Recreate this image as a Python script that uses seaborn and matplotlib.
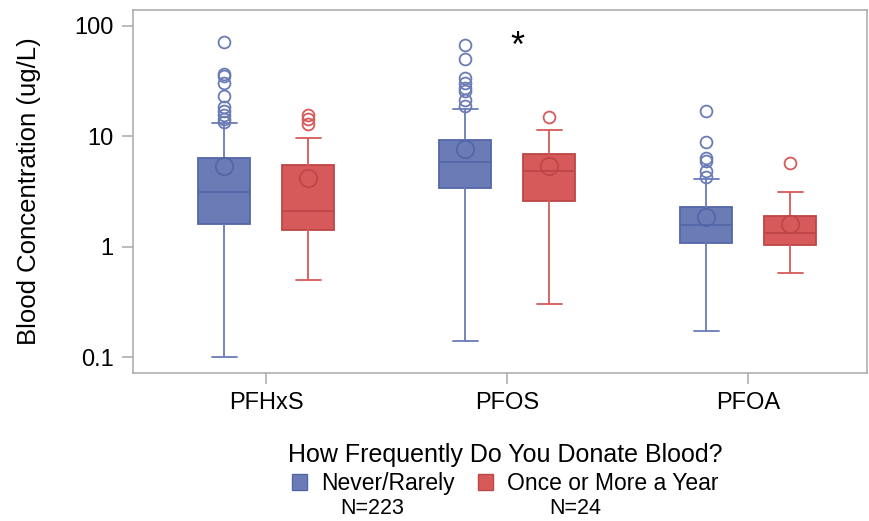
import numpy as np
import seaborn as sns
import matplotlib.pyplot as plt
from matplotlib.patches import Patch

sns.set_theme(style="white")
plt.rcParams['font.family'] = ['Liberation Sans', 'DejaVu Sans']
plt.rcParams['text.color'] = 'black'
plt.rcParams['axes.labelcolor'] = 'black'
plt.rcParams['xtick.labelcolor'] = 'black'
plt.rcParams['ytick.labelcolor'] = 'black'

# valores (ug/L)
compostos = ["PFHxS", "PFOS", "PFOA"]
grupos = ["Never/Rarely", "Once or More a Year"]
n_grupos = ["N=223", "N=24"]

nunca_min = [0.10, 0.141, 0.172]
nunca_q1 = [1.61, 3.41, 1.07]
nunca_mediana = [3.13, 5.81, 1.58]
nunca_q3 = [6.37, 9.33, 2.29]
nunca_max = [13.3, 17.7, 4.11]
nunca_media = [5.35, 7.69, 1.84]
nunca_outliers = [
    [71.7, 36.8, 35.0, 30.5, 23.0, 18.5, 16.9, 15.7, 14.2, 13.6],
    [66.8, 50.6, 33.8, 30.5, 27.5, 25.6, 21.5, 19.0],
    [17.1, 8.9, 6.37, 5.93, 4.82, 4.28],
]

anual_min = [0.50, 0.30, 0.578]
anual_q1 = [1.41, 2.61, 1.03]
anual_mediana = [2.11, 4.82, 1.33]
anual_q3 = [5.46, 6.97, 1.88]
anual_max = [9.73, 11.3, 3.11]
anual_media = [4.20, 5.35, 1.62]
anual_outliers = [[15.7, 14.3, 13.0], [15.1], [5.74]]

cor_azul = "#6A7BB6"
borda_azul = "#5366A8"
cor_verm = "#D65A5A"
borda_verm = "#BE4646"
cinza = "#A8A8A8"


def estatisticas(mins, q1s, meds, q3s, maxs, medias, outs):
    return [dict(whislo=a, q1=b, med=c, q3=d, whishi=e, mean=f, fliers=g)
            for a, b, c, d, e, f, g in zip(mins, q1s, meds, q3s, maxs, medias, outs)]


fig = plt.figure(figsize=(8.7, 5.21), dpi=100)
ax = fig.add_axes([0.153, 0.284, 0.843, 0.697])

x = np.arange(len(compostos))
desloc = 0.174
largura = 0.216

for stats, pos, cor, borda in [
    (estatisticas(nunca_min, nunca_q1, nunca_mediana, nunca_q3, nunca_max, nunca_media, nunca_outliers),
     x - desloc, cor_azul, borda_azul),
    (estatisticas(anual_min, anual_q1, anual_mediana, anual_q3, anual_max, anual_media, anual_outliers),
     x + desloc, cor_verm, borda_verm),
]:
    ax.bxp(stats, positions=pos, widths=largura, patch_artist=True, showmeans=True,
           boxprops=dict(facecolor=cor, edgecolor=borda, linewidth=1.3),
           medianprops=dict(color=borda, linewidth=1.3),
           whiskerprops=dict(color=cor, linewidth=1.3),
           capprops=dict(color=cor, linewidth=1.3),
           capwidths=0.104,
           meanprops=dict(marker="o", markerfacecolor="none", markeredgecolor=borda,
                          markersize=12.5, markeredgewidth=1.3),
           flierprops=dict(marker="o", markerfacecolor="none", markeredgecolor=cor,
                           markersize=8.5, markeredgewidth=1.3))

ax.text(1.04, 64, "*", ha="center", va="center", fontsize=26, color="black")

ax.set_yscale("log")
ax.set_ylim(0.0716, 139.7)
ax.set_xlim(-0.552, 2.49)
ax.set_yticks([0.1, 1, 10, 100])
ax.set_yticklabels(["0.1", "1", "10", "100"])
ax.minorticks_off()
ax.set_xticks(x)
ax.set_xticklabels(compostos)
ax.tick_params(axis="both", which="major", length=8, width=1.1, color=cinza,
               labelsize=17, pad=6, bottom=True, left=True)
ax.set_ylabel("Blood Concentration (ug/L)", fontsize=18.5, labelpad=24)
for s in ax.spines.values():
    s.set_color(cinza)
    s.set_linewidth(1.1)

alcas = [Patch(facecolor=cor_azul, edgecolor=borda_azul, label=grupos[0]),
         Patch(facecolor=cor_verm, edgecolor=borda_verm, label=grupos[1])]
leg = fig.legend(handles=alcas, loc="upper center", bbox_to_anchor=(505 / 870, 1 - 429 / 521),
                 ncol=2, frameon=False, fontsize=16.5, title="How Frequently Do You Donate Blood?",
                 title_fontsize=18, handlelength=0.68, handleheight=0.68, handletextpad=0.6,
                 columnspacing=1.0, borderpad=0.1, labelspacing=0.1)
leg._legend_box.sep = 4
fig.text(372 / 870, 1 - 509 / 521, n_grupos[0], ha="center", va="center", fontsize=15.5)
fig.text(575 / 870, 1 - 509 / 521, n_grupos[1], ha="center", va="center", fontsize=15.5)

plt.savefig("out.png", dpi=100)
